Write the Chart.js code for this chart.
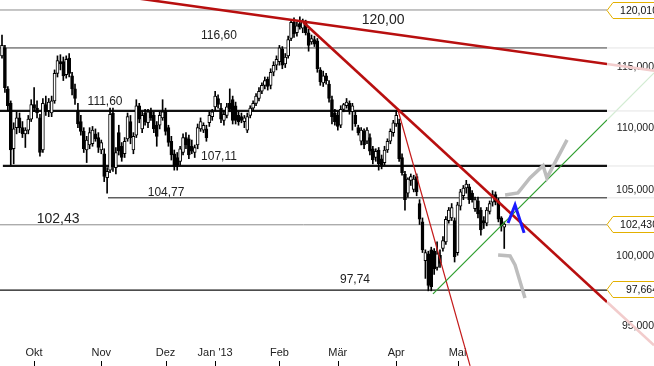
<!DOCTYPE html>
<html>
<head>
<meta charset="utf-8">
<script src="https://cdn.jsdelivr.net/npm/chart.js@4"></script>
<style>
  html, body { margin: 0; padding: 0; background: #fff; }
  #wrap { width: 654px; height: 366px; position: relative; }
</style>
</head>
<body>
<div id="wrap"><canvas id="chart" width="654" height="366"></canvas></div>
<script>
// daily candles, one per trading day from mid Sep 2012: [open, high, low, close]
const candles = [
  [116.0, 117.8, 115.8, 116.9], [116.7, 116.9, 112.9, 113.3], [113.2, 113.4, 111.4, 111.8], [112.0, 112.2, 107.0, 108.2],
  [108.3, 110.4, 107.1, 109.9], [110.0, 111.3, 109.5, 110.8], [110.8, 111.2, 109.6, 110.0], [110.0, 110.5, 109.2, 109.5],
  [109.5, 110.0, 108.4, 109.8], [109.8, 111.0, 109.5, 110.7], [110.7, 112.3, 110.5, 111.9], [111.9, 113.3, 111.3, 111.6],
  [111.6, 112.2, 110.8, 111.2], [110.8, 111.1, 107.7, 108.0], [108.2, 112.4, 108.0, 112.0], [111.9, 112.6, 111.0, 111.4],
  [111.4, 112.4, 110.9, 112.1], [111.2, 112.6, 110.9, 112.2], [112.2, 114.8, 112.0, 114.5], [114.5, 116.0, 114.2, 115.6],
  [115.5, 116.1, 114.8, 115.3], [115.5, 115.9, 113.9, 114.3], [114.4, 116.0, 114.1, 115.7], [115.8, 116.2, 114.2, 114.5],
  [114.3, 114.6, 112.7, 113.2], [113.2, 113.6, 111.9, 112.4], [111.4, 112.0, 110.0, 110.3], [110.5, 111.0, 109.4, 109.7],
  [109.7, 110.0, 108.0, 108.3], [108.2, 109.3, 107.2, 109.0], [108.6, 110.0, 108.3, 109.6], [108.7, 110.1, 108.5, 109.8],
  [109.5, 109.9, 108.9, 109.1], [109.2, 109.6, 108.0, 108.4], [108.2, 109.0, 107.9, 108.8], [107.9, 108.3, 105.7, 106.1],
  [106.0, 106.8, 104.8, 106.5], [106.6, 111.6, 106.4, 111.1], [111.2, 111.6, 106.5, 106.9], [106.8, 108.4, 106.3, 108.0],
  [109.6, 110.2, 107.8, 108.1], [108.5, 108.8, 107.3, 107.6], [107.9, 109.2, 107.6, 108.9], [109.1, 111.2, 108.9, 110.9],
  [110.5, 111.0, 108.7, 109.2], [108.2, 109.6, 107.9, 109.3], [109.4, 112.3, 109.2, 111.8], [111.8, 112.0, 110.4, 110.7],
  [109.9, 111.3, 109.6, 111.0], [111.2, 111.5, 110.2, 110.5], [110.4, 111.5, 110.0, 111.3], [111.3, 111.6, 110.6, 110.8],
  [111.0, 111.3, 109.6, 109.9], [110.2, 110.5, 108.5, 109.3], [110.2, 111.3, 109.9, 111.0], [110.8, 112.3, 110.6, 111.3],
  [111.3, 111.6, 109.4, 109.7], [110.0, 110.2, 108.5, 108.8], [108.9, 109.3, 107.4, 107.8], [107.9, 108.2, 106.6, 106.9],
  [107.6, 108.0, 106.6, 107.0], [107.3, 108.5, 107.0, 108.3], [108.0, 109.5, 107.8, 109.2], [109.2, 109.6, 108.3, 108.6],
  [109.1, 109.4, 107.5, 107.8], [108.5, 109.0, 107.9, 108.1], [108.0, 108.6, 107.6, 108.4], [108.6, 110.3, 108.3, 110.0],
  [109.9, 110.8, 109.7, 110.5], [109.8, 110.4, 109.6, 110.2], [109.9, 110.2, 108.9, 109.2], [110.4, 111.3, 110.1, 111.0],
  [110.9, 111.5, 110.6, 111.3], [111.7, 113.0, 111.4, 112.6], [112.4, 112.7, 111.6, 111.9], [111.6, 112.0, 110.4, 110.7],
  [110.6, 111.4, 110.2, 111.1], [111.0, 112.0, 110.8, 111.7], [112.0, 113.2, 111.3, 111.5], [112.3, 112.6, 110.3, 110.6],
  [111.8, 112.1, 110.3, 110.6], [111.0, 111.3, 110.2, 110.5], [110.9, 111.2, 110.4, 110.6], [110.5, 111.0, 110.0, 110.8],
  [109.8, 111.2, 109.6, 110.9], [111.0, 111.8, 110.8, 111.6], [111.6, 112.2, 111.4, 112.0], [112.0, 112.8, 111.8, 112.6],
  [112.4, 113.3, 112.2, 113.0], [113.0, 113.7, 112.8, 113.5], [113.5, 114.2, 113.2, 113.9], [114.0, 114.2, 113.1, 113.4],
  [113.5, 114.9, 113.2, 114.6], [114.6, 115.5, 114.3, 115.2], [115.2, 116.0, 114.8, 115.7], [115.5, 116.9, 115.2, 116.7],
  [116.6, 116.8, 114.9, 115.2], [115.3, 116.2, 115.0, 115.9], [116.0, 117.7, 115.8, 117.4], [117.5, 119.1, 117.3, 118.9],
  [118.9, 119.3, 117.6, 117.9], [118.0, 118.9, 117.7, 118.6], [118.8, 119.4, 118.3, 118.5], [118.4, 119.2, 118.0, 119.0],
  [118.9, 119.1, 117.8, 118.0], [118.0, 118.3, 116.4, 116.9], [117.2, 117.8, 117.0, 117.5], [117.4, 117.7, 116.8, 117.0],
  [117.3, 117.5, 114.6, 114.9], [114.8, 115.0, 113.5, 113.8], [113.7, 114.7, 113.4, 114.3], [114.3, 114.5, 113.6, 113.9],
  [113.6, 113.9, 112.1, 112.4], [112.3, 112.6, 110.3, 110.9], [111.2, 111.5, 110.2, 110.5], [111.0, 111.3, 109.8, 110.1],
  [110.2, 111.8, 110.0, 111.5], [111.5, 112.0, 111.3, 111.9], [111.8, 112.4, 111.6, 112.1], [112.0, 112.2, 111.1, 111.4],
  [111.3, 112.0, 109.8, 111.8], [111.0, 111.3, 110.1, 110.3], [110.0, 110.2, 109.4, 109.6], [108.9, 110.0, 108.6, 109.8],
  [109.7, 109.9, 108.3, 108.6], [108.9, 110.0, 108.7, 109.8], [109.2, 109.5, 107.8, 108.1], [108.3, 108.5, 107.1, 107.4],
  [107.6, 108.3, 107.3, 108.1], [108.2, 108.4, 106.6, 107.1], [107.5, 107.8, 106.7, 107.0], [107.2, 108.5, 107.0, 108.2],
  [108.2, 109.1, 108.0, 108.9], [108.9, 109.9, 108.7, 109.7], [109.6, 110.6, 109.3, 110.4], [110.3, 111.4, 110.1, 111.0],
  [110.4, 110.7, 107.3, 107.5], [107.6, 107.9, 106.2, 106.4], [106.3, 106.5, 103.5, 104.3], [104.8, 106.0, 104.5, 105.9],
  [105.8, 106.3, 105.4, 106.1], [105.1, 106.2, 104.9, 105.9], [106.1, 106.3, 104.6, 104.9], [104.0, 104.3, 102.4, 102.8],
  [102.6, 102.9, 100.3, 100.5], [99.7, 100.5, 98.4, 100.3], [100.2, 100.4, 97.5, 97.9], [100.5, 100.7, 97.5, 97.8],
  [100.4, 100.6, 98.7, 99.1], [99.2, 101.1, 99.0, 100.2], [100.1, 100.5, 99.2, 99.5], [100.6, 101.5, 100.4, 101.2],
  [101.1, 103.0, 100.9, 102.8], [102.7, 103.7, 102.5, 103.5], [102.9, 104.0, 102.7, 103.7], [102.7, 102.9, 99.6, 100.0],
  [100.3, 104.1, 100.1, 103.9], [103.8, 105.1, 103.5, 104.9], [104.6, 105.4, 104.3, 105.2], [105.2, 105.8, 104.8, 105.5],
  [105.3, 105.5, 104.0, 104.3], [104.8, 105.0, 104.1, 104.3], [103.6, 104.5, 103.4, 104.3], [104.2, 104.5, 102.9, 103.2],
  [103.5, 103.7, 101.6, 102.0], [102.7, 103.0, 102.1, 102.5], [102.5, 103.7, 102.3, 103.5], [103.4, 104.2, 103.2, 104.0],
  [104.1, 105.0, 103.8, 104.7], [104.7, 104.9, 103.9, 104.1], [104.2, 104.4, 102.6, 102.8], [102.9, 103.0, 101.9, 102.3],
  [102.2, 102.6, 100.6, 102.43]
];

// first trading day of each month (candle index) and its label
const monthTicks = [11, 34, 56, 73, 95, 115, 135, 156];
const monthLabels = ["Okt", "Nov", "Dez", "Jan '13", "Feb", "Mär", "Apr", "Mai"];
const yTicks = [95, 100, 105, 110, 115];
const xRange = [-0.685, 207.19];
const xEdge = 223.3; // right edge of the picture, where the faded line ends run to
const yRange = [94.02, 120.89];

// horizontal support / resistance levels
const levels = [120.0, 116.68, 111.37, 106.93, 104.44, 102.38, 97.55];
const levelFrom = [-0.685, -0.685, -0.685, 0.3, 36.3, -0.685, -0.685];
const levelColors = ["#8c8c8c", "#3a3a3a", "#111", "#111", "#111", "#8c8c8c", "#111"];
const levelWidths = [1, 1, 2.2, 2.2, 1, 1, 1.3];

// trend lines [index, value], plus their faded run-out past the plot
const trendTop = [[47.3, 121.0], [207.2, 115.3]];
const trendTopOut = [[207.2, 115.3], [223.3, 114.74]];
const trendMain = [[103.1, 118.94], [207.2, 96.7]];
const trendMainOut = [[207.2, 96.7], [223.3, 93.66]];
const trendSteep = [[135.6, 111.45], [160.3, 92.24]];
const trendUp = [[147.6, 97.28], [207.2, 110.63]];
const trendUpOut = [[207.2, 110.63], [223.3, 114.54]];

// hand drawn forecast sketches
const sketchUp = [[172.3, 104.66], [176.7, 104.82], [180.8, 105.99], [185.3, 106.95], [186.6, 105.99], [193.5, 109.01]];
const sketchDown = [[169.9, 100.12], [174.0, 100.05], [175.7, 99.39], [179.1, 96.99]];
const sketchA = [[173.3, 102.52], [175.7, 103.89], [178.8, 101.77]];

// text notes on the chart
const noteText = ["116,60", "120,00", "111,60", "107,11", "104,77", "102,43", "97,74"];
const noteAt = [[74.3, 117.72], [130.5, 119.12], [35.3, 112.11], [74.3, 107.65], [56.2, 104.82], [19.2, 102.82], [120.9, 98.33]];
const noteSize = [12, 14, 12, 12, 12, 14, 12];

// highlighted price markers on the right axis
const markValues = [120.01, 102.43, 97.664];
const markText = ["120,010", "102,430", "97,664"];

const FONT = '"Liberation Sans", Arial, sans-serif';
Chart.defaults.font.family = FONT;

const pts = arr => arr.map(p => ({ x: p[0], y: p[1] }));
const line = (arr, color, width, extra) => Object.assign({
  type: "line", data: pts(arr), borderColor: color, borderWidth: width,
  pointRadius: 0, fill: false, tension: 0
}, extra || {});

const overlay = {
  id: "overlay",
  afterDraw(chart) {
    const { ctx, chartArea } = chart;
    const x = chart.scales.x, y = chart.scales.y;
    ctx.save();
    ctx.textAlign = "center";
    ctx.textBaseline = "middle";
    ctx.fillStyle = "#222";
    noteText.forEach((t, k) => {
      ctx.font = noteSize[k] + "px " + FONT;
      ctx.fillText(t, x.getPixelForValue(noteAt[k][0]), y.getPixelForValue(noteAt[k][1]));
    });

    // small month tick marks under the labels
    ctx.strokeStyle = "#000";
    ctx.lineWidth = 1;
    monthTicks.forEach(v => {
      const px = Math.round(x.getPixelForValue(v)) + 0.5;
      ctx.beginPath();
      ctx.moveTo(px, 361);
      ctx.lineTo(px, 366);
      ctx.stroke();
    });

    // boxed value markers
    markValues.forEach((v, k) => {
      const py = Math.round(y.getPixelForValue(v)) + 0.5;
      const left = chartArea.right;
      ctx.beginPath();
      ctx.moveTo(left, py);
      ctx.lineTo(left + 6, py - 8);
      ctx.lineTo(662, py - 8);
      ctx.lineTo(662, py + 8);
      ctx.lineTo(left + 6, py + 8);
      ctx.closePath();
      ctx.fillStyle = "#fff";
      ctx.fill();
      ctx.strokeStyle = "#e3b000";
      ctx.stroke();
      ctx.fillStyle = "#111";
      ctx.font = "10.5px " + FONT;
      ctx.textAlign = "right";
      ctx.fillText(markText[k], 658, py + 0.5);
    });
    ctx.restore();
  }
};

const datasets = [
  line(sketchA, "#1a1aff", 3),
  line(sketchUp, "#bdbdbd", 3.5),
  line(sketchDown, "#bdbdbd", 3.5),
  line(trendUp, "#2e9e2e", 1.2),
  line(trendSteep, "#c41a1a", 1.2, { clip: false }),
  line(trendMain, "#b80f0f", 2.6),
  line(trendTop, "#b80f0f", 2.6),
  {
    type: "bar",
    data: candles.map((c, i) => ({ x: i, y: [c[0], c[3]] })),
    backgroundColor: candles.map(c => (c[3] >= c[0] ? "#fff" : "#000")),
    borderColor: "#000",
    borderWidth: 1,
    borderSkipped: false,
    barThickness: 3,
    grouped: false
  },
  {
    type: "bar",
    data: candles.map((c, i) => ({ x: i, y: [c[2], c[1]] })),
    backgroundColor: "#000",
    barThickness: 1,
    grouped: false
  }
]
  .concat(levels.map((v, k) => line([[levelFrom[k], v], [xRange[1], v]], levelColors[k], levelWidths[k])))
  .concat(levels.slice(1).map(v => line([[xRange[1], v], [xEdge, v]], "#e4e4e4", 1, { clip: false })))
  .concat([
    line(trendTopOut, "#f2cccc", 2.6, { clip: false }),
    line(trendMainOut, "#f2cccc", 2.6, { clip: false }),
    line(trendUpOut, "#d3ecd3", 1.2, { clip: false })
  ]);

new Chart(document.getElementById("chart"), {
  type: "bar",
  data: { datasets },
  options: {
    responsive: false,
    animation: false,
    devicePixelRatio: 1,
    layout: { autoPadding: false, padding: 0 },
    plugins: { legend: { display: false }, tooltip: { enabled: false } },
    scales: {
      x: {
        type: "linear",
        min: xRange[0],
        max: xRange[1],
        offset: false,
        grid: { display: false, drawTicks: false },
        border: { display: false },
        ticks: {
          autoSkip: false,
          maxRotation: 0,
          padding: 6,
          color: "#222",
          font: { size: 11 },
          callback: v => {
            const k = monthTicks.indexOf(v);
            return k < 0 ? "" : monthLabels[k];
          }
        },
        afterBuildTicks: s => { s.ticks = monthTicks.map(v => ({ value: v })); },
        afterFit: s => { s.height = 26; s.paddingLeft = 0; s.paddingRight = 0; }
      },
      y: {
        type: "logarithmic",
        position: "right",
        z: 1,
        min: yRange[0],
        max: yRange[1],
        grid: { display: false, drawTicks: false },
        border: { display: false },
        ticks: {
          autoSkip: false,
          crossAlign: "far",
          padding: 13,
          color: "#222",
          font: { size: 10.5 },
          callback: v => Number(v).toFixed(3).replace(".", ",")
        },
        afterBuildTicks: s => { s.ticks = yTicks.map(v => ({ value: v })); },
        afterFit: s => { s.width = 47; s.paddingTop = 0; s.paddingBottom = 0; }
      }
    }
  },
  plugins: [overlay]
});
</script>
</body>
</html>
